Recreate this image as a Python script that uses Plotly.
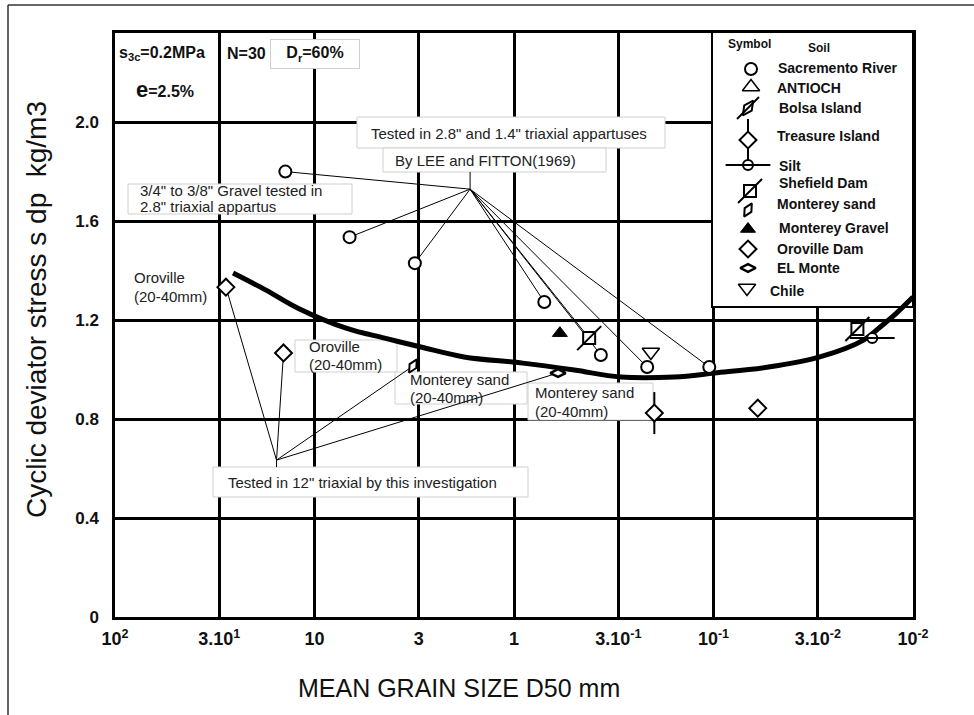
import plotly.graph_objects as go

# ---------------- data ----------------
sac_x = [14.0, 6.67, 3.14, 0.705, 0.367, 0.215, 0.105]
sac_y = [1.80, 1.535, 1.43, 1.273, 1.059, 1.010, 1.010]
oro_x = [27.8, 14.3, 0.060]
oro_y = [1.333, 1.067, 0.844]
treasure_x = [0.198]
treasure_y = [0.824]
msand_x = [3.21]
msand_y = [1.014]
elmonte_x = [0.602]
elmonte_y = [0.986]
mgravel_x = [0.589]
mgravel_y = [1.147]
chile_x = [0.206]
chile_y = [1.071]
shef_x = [0.420, 0.0190]
shef_y = [1.127, 1.164]
silt_x = [0.0160]
silt_y = [1.127]

curve_x = [25.6, 17.5, 12.1, 6.82, 4.45, 2.93, 1.78, 0.904, 0.498,
           0.293, 0.157, 0.0988, 0.053, 0.0293, 0.0177, 0.0146, 0.0121, 0.0100]
curve_y = [1.390, 1.321, 1.248, 1.165, 1.127, 1.091, 1.051, 1.026, 0.998,
           0.970, 0.970, 0.986, 1.010, 1.051, 1.119, 1.172, 1.228, 1.293]

lee_hub = (1.66, 1.729)
lee_stub_y = 1.798
this_hub = (15.5, 0.634)
this_stub_y = 0.606

x_tickvals = [100, 30, 10, 3, 1, 0.3, 0.1, 0.03, 0.01]
x_ticktext = ["10<sup>2</sup>", "3.10<sup>1</sup>", "10", "3", "1", "3.10<sup>-1</sup>",
              "10<sup>-1</sup>", "3.10<sup>-2</sup>", "10<sup>-2</sup>"]
y_tickvals = [0, 0.4, 0.8, 1.2, 1.6, 2.0]
y_ticktext = ["0", "0.4", "0.8", "1.2", "1.6", "2.0"]

legend_names = ["Sacremento River", "ANTIOCH", "Bolsa Island", "Treasure Island", "Silt",
                "Shefield Dam", "Monterey sand", "Monterey Gravel", "Oroville Dam",
                "EL Monte", "Chile"]

# ---------------- layout helpers (pixel -> coords) ----------------
W, H = 974, 715
X0, X1, Y0, Y1 = 115, 913, 33, 617
YMAX = 2.36
FONT = "Arial, Liberation Sans, sans-serif"


def pxp(px):
    return (px - X0) / (X1 - X0)


def pyp(py):
    return (Y1 - py) / (Y1 - Y0)


def dx(px):
    return 10 ** (2 - 4 * (px - X0) / (X1 - X0))


def dy(py):
    return YMAX * (Y1 - py) / (Y1 - Y0)


sym_specs = {
    "Sacremento River": [dict(symbol="circle", size=12, fill="white", lw=2)],
    "ANTIOCH": [dict(symbol="triangle-up", size=15, fill="white", lw=1.5)],
    "Bolsa Island": [dict(symbol="diamond-tall", size=13, fill="white", lw=2, angle=35),
                     dict(symbol="line-ne", size=22, fill="black", lw=2)],
    "Treasure Island": [dict(symbol="line-ns", size=30, fill="black", lw=2),
                        dict(symbol="diamond", size=13, fill="white", lw=2)],
    "Silt": [dict(symbol="circle", size=10, fill="white", lw=2),
             dict(symbol="line-ew", size=32, fill="black", lw=2)],
    "Shefield Dam": [dict(symbol="square", size=12, fill="white", lw=2),
                     dict(symbol="line-ne", size=24, fill="black", lw=2)],
    "Monterey sand": [dict(symbol="diamond-tall", size=11, fill="white", lw=2, angle=30)],
    "Monterey Gravel": [dict(symbol="triangle-up", size=13, fill="black", lw=1)],
    "Oroville Dam": [dict(symbol="diamond", size=13, fill="white", lw=2)],
    "EL Monte": [dict(symbol="diamond-wide", size=11, fill="white", lw=2.5)],
    "Chile": [dict(symbol="triangle-down", size=15, fill="white", lw=1.5)],
}

fig = go.Figure()


def add_sym(name, xs, ys):
    for s in sym_specs[name]:
        fig.add_trace(go.Scatter(
            x=xs, y=ys, mode="markers", showlegend=False, hoverinfo="skip",
            marker=dict(symbol=s["symbol"], size=s["size"], color=s["fill"],
                        angle=s.get("angle", 0),
                        line=dict(color="black", width=s["lw"]))))


# leader lines
def leaders(hub, stub_y, xs, ys):
    lx, ly = [hub[0], hub[0], None], [hub[1], stub_y, None]
    for x, y in zip(xs, ys):
        lx += [hub[0], x, None]
        ly += [hub[1], y, None]
    return lx, ly


lx1, ly1 = leaders(lee_hub, lee_stub_y, sac_x + shef_x[:1], sac_y + shef_y[:1])
lx2, ly2 = leaders(this_hub, this_stub_y,
                   oro_x[:2] + msand_x + elmonte_x, oro_y[:2] + msand_y + elmonte_y)
fig.add_trace(go.Scatter(x=lx1 + lx2, y=ly1 + ly2, mode="lines", showlegend=False,
                         hoverinfo="skip", line=dict(color="black", width=1)))

# main curve
fig.add_trace(go.Scatter(x=curve_x, y=curve_y, mode="lines", showlegend=False,
                         line=dict(color="black", width=5, shape="spline", smoothing=1.0)))

add_sym("Sacremento River", sac_x, sac_y)
add_sym("Oroville Dam", oro_x, oro_y)
add_sym("Treasure Island", treasure_x, treasure_y)
add_sym("Monterey sand", msand_x, msand_y)
add_sym("EL Monte", elmonte_x, elmonte_y)
add_sym("Monterey Gravel", mgravel_x, mgravel_y)
add_sym("Chile", chile_x, chile_y)
add_sym("Shefield Dam", shef_x, shef_y)
add_sym("Silt", silt_x, silt_y)

# legend swatches & text
leg_sym_py = [69, 87, 108, 140, 165, 191, 210, 229, 249, 268, 288]
leg_txt_py = [68, 88, 108, 136, 166, 183, 204, 228, 249, 268, 291]
leg_txt_px = [776, 775, 777, 775, 777, 777, 775, 777, 775, 775, 768]
leg_sym_px = [751, 751, 748, 748, 748, 750, 748, 748, 748, 748, 747]
annotations = []
for i, name in enumerate(legend_names):
    add_sym(name, [dx(leg_sym_px[i])], [dy(leg_sym_py[i])])
    annotations.append(dict(text=name, x=pxp(leg_txt_px[i]), y=pyp(leg_txt_py[i]),
                            xref="paper", yref="paper", xanchor="left", yanchor="middle",
                            showarrow=False, font=dict(size=14, family=FONT, color="#111", weight="bold")))
annotations.append(dict(text="Symbol", x=pxp(726), y=pyp(44), xref="paper", yref="paper",
                        xanchor="left", yanchor="middle", showarrow=False,
                        font=dict(size=12, family=FONT, color="#111", weight="bold")))
annotations.append(dict(text="Soil", x=pxp(806), y=pyp(48), xref="paper", yref="paper",
                        xanchor="left", yanchor="middle", showarrow=False,
                        font=dict(size=12, family=FONT, color="#111", weight="bold")))

# boxes behind text (above gridlines, below traces)
box_rects = [(357, 117, 665, 148), (383, 148, 606, 172), (128, 184, 352, 214),
             (295, 340, 397, 372), (395, 372, 527, 404), (528, 383, 653, 420),
             (213, 467, 528, 497)]
shapes = []
for (l, t, r, b) in box_rects:
    shapes.append(dict(type="rect", xref="x", yref="y", x0=dx(l), x1=dx(r), y0=dy(b), y1=dy(t),
                       fillcolor="white", line=dict(color="#d0d0d0", width=1), layer="between"))
shapes.append(dict(type="rect", xref="x", yref="y", x0=dx(712), x1=dx(913), y0=dy(307), y1=dy(32),
                   fillcolor="white", line=dict(color="black", width=2), layer="between"))
# page border
shapes.append(dict(type="line", xref="paper", yref="paper", x0=pxp(8), x1=pxp(8), y0=pyp(5), y1=pyp(715),
                   line=dict(color="#333", width=1.5)))
shapes.append(dict(type="line", xref="paper", yref="paper", x0=pxp(8), x1=pxp(974), y0=pyp(5), y1=pyp(5),
                   line=dict(color="#333", width=1.5)))

texts = [
    ("Tested in 2.8\" and 1.4\" triaxial appartuses", 509, 133, "center"),
    ("By LEE and FITTON(1969)", 485, 160, "center"),
    ("3/4\" to 3/8\" Gravel tested in", 138, 191, "left"),
    ("2.8\" triaxial appartus", 138, 207, "left"),
    ("Oroville", 132, 277, "left"),
    ("(20-40mm)", 132, 296, "left"),
    ("Oroville", 307, 346, "left"),
    ("(20-40mm)", 307, 364, "left"),
    ("Monterey sand", 408, 379, "left"),
    ("(20-40mm)", 408, 397, "left"),
    ("Monterey sand", 533, 392, "left"),
    ("(20-40mm)", 533, 411, "left"),
    ("Tested in 12\" triaxial by this investigation", 362, 482, "center"),
]
for t, px, py, anc in texts:
    annotations.append(dict(text=t, x=pxp(px), y=pyp(py), xref="paper", yref="paper",
                            xanchor=anc, yanchor="middle", showarrow=False,
                            font=dict(size=15, family=FONT, color="#222")))

# top-left condition texts
annotations += [
    dict(text="s<sub>3c</sub>=0.2MPa", x=pxp(117), y=pyp(53), xref="paper", yref="paper",
         xanchor="left", yanchor="middle", showarrow=False,
         font=dict(size=16, family=FONT, color="#111", weight="bold")),
    dict(text="N=30", x=pxp(225), y=pyp(53), xref="paper", yref="paper",
         xanchor="left", yanchor="middle", showarrow=False,
         font=dict(size=16, family=FONT, color="#111", weight="bold")),
    dict(text="D<sub>r</sub>=60%", x=pxp(315), y=pyp(54), xref="paper", yref="paper",
         xanchor="center", yanchor="middle", showarrow=False, width=84, height=24,
         bgcolor="white", bordercolor="#d0d0d0", borderwidth=1, borderpad=2,
         font=dict(size=16, family=FONT, color="#111", weight="bold")),
    dict(text="<span style='font-size:22px'>e</span>=2.5%", x=pxp(134), y=pyp(89),
         xref="paper", yref="paper", xanchor="left", yanchor="middle", showarrow=False,
         font=dict(size=16, family=FONT, color="#111", weight="bold")),
    dict(text="2.4", x=pxp(104), y=2.4, xref="paper", yref="y", xanchor="right",
         yanchor="middle", showarrow=False,
         font=dict(size=17, family=FONT, color="#111", weight="bold")),
    dict(text="MEAN GRAIN SIZE D50 mm", x=pxp(459), y=pyp(688), xref="paper", yref="paper",
         xanchor="center", yanchor="middle", showarrow=False,
         font=dict(size=25, family=FONT, color="#111")),
    dict(text="Cyclic deviator stress s dp  kg/m3", x=pxp(36), y=pyp(310), xref="paper",
         yref="paper", xanchor="center", yanchor="middle", showarrow=False, textangle=-90,
         font=dict(size=28, family=FONT, color="#111")),
]

fig.update_layout(
    width=W, height=H, margin=dict(l=X0, r=W - X1, t=Y0, b=H - Y1),
    paper_bgcolor="white", plot_bgcolor="white", showlegend=False,
    shapes=shapes, annotations=annotations,
    xaxis=dict(type="log", range=[2, -2], tickvals=x_tickvals, ticktext=x_ticktext,
               showgrid=True, gridcolor="black", gridwidth=2.5, zeroline=False,
               showline=True, linecolor="black", linewidth=2.5, mirror=True, ticks="",
               ticklabelstandoff=4,
               tickfont=dict(size=18, family=FONT, color="#111", weight="bold")),
    yaxis=dict(range=[0, YMAX], tickvals=y_tickvals, ticktext=y_ticktext,
               showgrid=True, gridcolor="black", gridwidth=2.5, zeroline=False,
               showline=True, linecolor="black", linewidth=2.5, mirror=True, ticks="",
               ticklabelstandoff=10,
               tickfont=dict(size=17, family=FONT, color="#111", weight="bold")),
)

fig.write_html("out.html")
